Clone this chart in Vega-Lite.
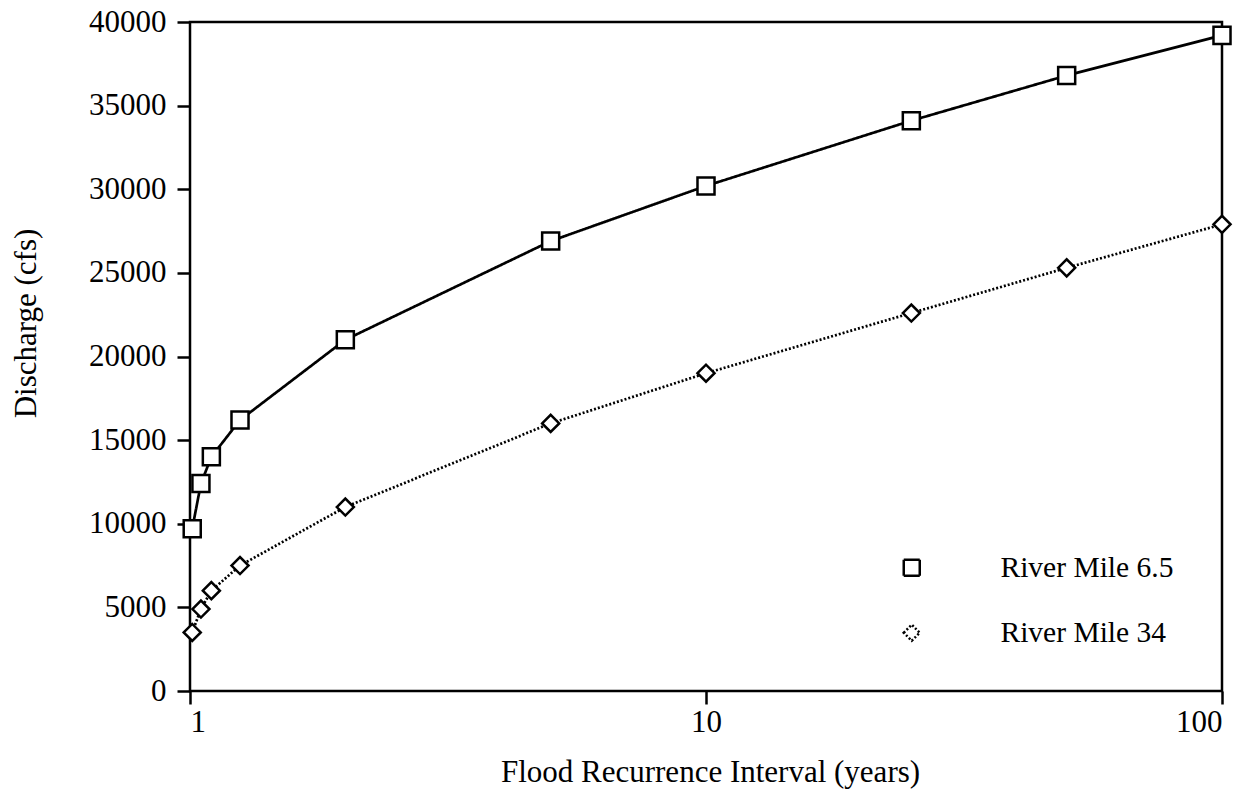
{
  "$schema": "https://vega.github.io/schema/vega-lite/v6.json",
  "width": 1032,
  "height": 669,
  "autosize": "none",
  "padding": {"left": 190, "top": 22, "right": 36, "bottom": 100},
  "background": "white",
  "config": {
    "font": "Liberation Serif",
    "view": {"stroke": "black", "strokeWidth": 2.5},
    "axis": {"grid": false, "domain": false, "tickColor": "black", "tickWidth": 2.5, "tickSize": 13, "labelColor": "black", "titleColor": "black", "labelFont": "Liberation Serif", "titleFont": "Liberation Serif", "labelFontSize": 31, "titleFontSize": 31, "titleFontWeight": "normal"}
  },
  "data": {
    "values": [
      {"T": 1.01, "Q": 9700, "series": "River Mile 6.5"},
      {"T": 1.05, "Q": 12400, "series": "River Mile 6.5"},
      {"T": 1.1, "Q": 14000, "series": "River Mile 6.5"},
      {"T": 1.25, "Q": 16200, "series": "River Mile 6.5"},
      {"T": 2, "Q": 21000, "series": "River Mile 6.5"},
      {"T": 5, "Q": 26900, "series": "River Mile 6.5"},
      {"T": 10, "Q": 30200, "series": "River Mile 6.5"},
      {"T": 25, "Q": 34100, "series": "River Mile 6.5"},
      {"T": 50, "Q": 36800, "series": "River Mile 6.5"},
      {"T": 100, "Q": 39200, "series": "River Mile 6.5"},
      {"T": 1.01, "Q": 3500, "series": "River Mile 34"},
      {"T": 1.05, "Q": 4900, "series": "River Mile 34"},
      {"T": 1.1, "Q": 6000, "series": "River Mile 34"},
      {"T": 1.25, "Q": 7500, "series": "River Mile 34"},
      {"T": 2, "Q": 11000, "series": "River Mile 34"},
      {"T": 5, "Q": 16000, "series": "River Mile 34"},
      {"T": 10, "Q": 19000, "series": "River Mile 34"},
      {"T": 25, "Q": 22600, "series": "River Mile 34"},
      {"T": 50, "Q": 25300, "series": "River Mile 34"},
      {"T": 100, "Q": 27900, "series": "River Mile 34"}
    ]
  },
  "encoding": {
    "x": {"field": "T", "type": "quantitative", "scale": {"type": "log", "domain": [1, 100], "nice": false},
      "axis": {"values": [1, 10, 100], "format": "d", "title": "Flood Recurrence Interval (years)", "labelPadding": 3, "titleX": 520, "titleY": 90, "titleBaseline": "alphabetic"}},
    "y": {"field": "Q", "type": "quantitative", "scale": {"domain": [0, 40000], "nice": false, "zero": true},
      "axis": {"values": [0, 5000, 10000, 15000, 20000, 25000, 30000, 35000, 40000], "format": "d", "title": "Discharge (cfs)", "labelPadding": 11, "titleX": -155, "titleY": 301, "titleBaseline": "alphabetic"}}
  },
  "layer": [
    {
      "mark": {"type": "line", "color": "black", "strokeWidth": 2.7},
      "encoding": {
        "strokeDash": {"field": "series", "type": "nominal",
          "scale": {"domain": ["River Mile 6.5", "River Mile 34"], "range": [[1, 0], [2, 2]]},
          "legend": {"orient": "none", "legendX": 707, "legendY": 531, "title": null, "padding": 0,
            "symbolType": "stroke", "symbolSize": 256, "symbolStrokeWidth": 2.5, "symbolStrokeColor": "black", "symbolFillColor": "white",
            "labelFont": "Liberation Serif", "labelFontSize": 29.5, "labelColor": "black", "labelOffset": 74, "labelLimit": 0, "rowPadding": 34}}
      }
    },
    {
      "mark": {"type": "point", "filled": true, "fill": "white", "stroke": "black", "strokeWidth": 2.5, "opacity": 1, "size": 290},
      "encoding": {
        "shape": {"field": "series", "type": "nominal",
          "scale": {"domain": ["River Mile 6.5", "River Mile 34"], "range": ["square", "diamond"]},
          "legend": null}
      }
    }
  ]
}
